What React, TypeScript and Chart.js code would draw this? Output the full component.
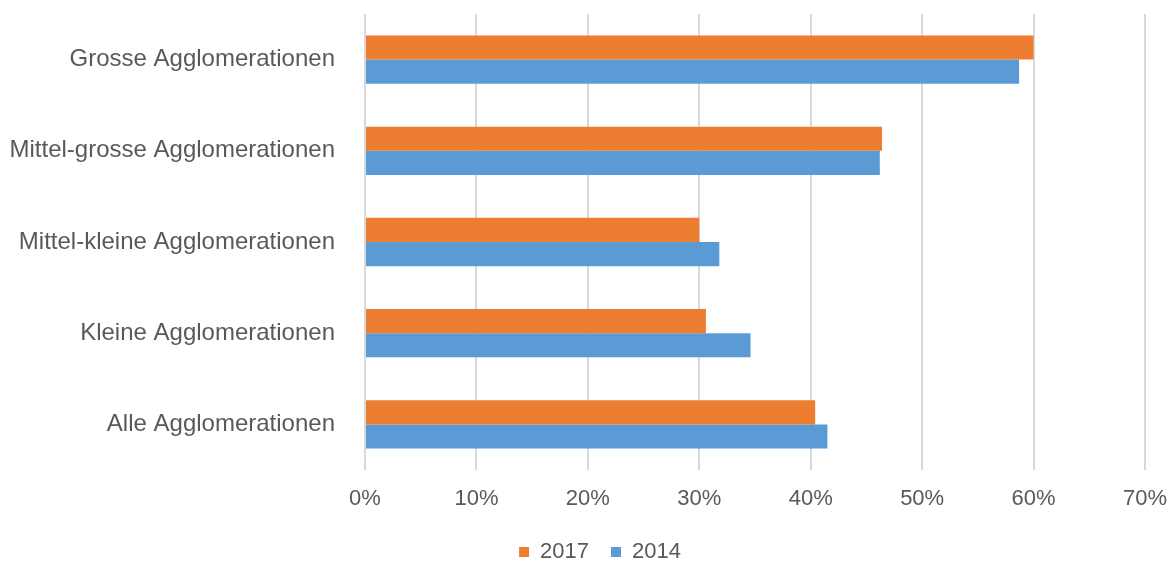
import React, { useEffect, useRef } from "react";
import { Chart, registerables } from "chart.js";

Chart.register(...registerables);

const categories = [
  "Grosse Agglomerationen",
  "Mittel-grosse Agglomerationen",
  "Mittel-kleine Agglomerationen",
  "Kleine Agglomerationen",
  "Alle Agglomerationen",
];
const values2017 = [60.0, 46.4, 30.0, 30.6, 40.4];
const values2014 = [58.7, 46.2, 31.8, 34.6, 41.5];
const seriesLabels = ["2017", "2014"];

const legendShift = {
  id: "legendShift",
  afterLayout(chart: any) {
    const lg = chart.legend;
    if (!lg) return;
    lg.left += 15;
    lg.right += 15;
    lg.top += 12;
    lg.bottom += 12;
  },
};

export default function App() {
  const ref = useRef<HTMLCanvasElement | null>(null);
  useEffect(() => {
    if (!ref.current) return;
    const family = "'Liberation Sans', Arial, sans-serif";
    const chart = new Chart(ref.current, {
      type: "bar",
      data: {
        labels: categories,
        datasets: [
          {
            label: seriesLabels[0],
            data: values2017,
            backgroundColor: "#ED7D31",
            barPercentage: 1,
            categoryPercentage: 0.53,
          },
          {
            label: seriesLabels[1],
            data: values2014,
            backgroundColor: "#5B9BD5",
            barPercentage: 1,
            categoryPercentage: 0.53,
          },
        ],
      },
      plugins: [legendShift],
      options: {
        indexAxis: "y",
        animation: false,
        responsive: false,
        maintainAspectRatio: false,
        layout: { padding: { top: 14, right: 0, left: 0, bottom: 0 } },
        plugins: {
          tooltip: { enabled: false },
          legend: {
            position: "bottom",
            labels: {
              font: { family, size: 22 },
              color: "#595959",
              boxWidth: 10,
              boxHeight: 10,
              padding: 22,
            },
          },
        },
        scales: {
          x: {
            min: 0,
            max: 70,
            ticks: {
              stepSize: 10,
              font: { family, size: 22 },
              color: "#595959",
              padding: 16,
              callback: (v: any) => v + "%",
            },
            grid: { color: "#D9D9D9", lineWidth: 2, drawTicks: false },
            border: { display: false },
            afterFit: (scale: any) => {
              scale.paddingRight = 25;
              scale.paddingLeft = 0;
              scale.height = 37;
            },
          },
          y: {
            ticks: { font: { family, size: 24 }, color: "#595959", padding: 22 },
            grid: { display: false },
            border: { display: false },
            afterFit: (scale: any) => {
              scale.width = 365;
              scale.paddingTop = 0;
              scale.paddingBottom = 0;
            },
          },
        },
      },
    });
    return () => chart.destroy();
  }, []);
  return (
    <div style={{ position: "absolute", left: 0, top: 0, width: 1170, height: 561, background: "#fff" }}>
      <canvas ref={ref} width={1170} height={561} />
    </div>
  );
}
